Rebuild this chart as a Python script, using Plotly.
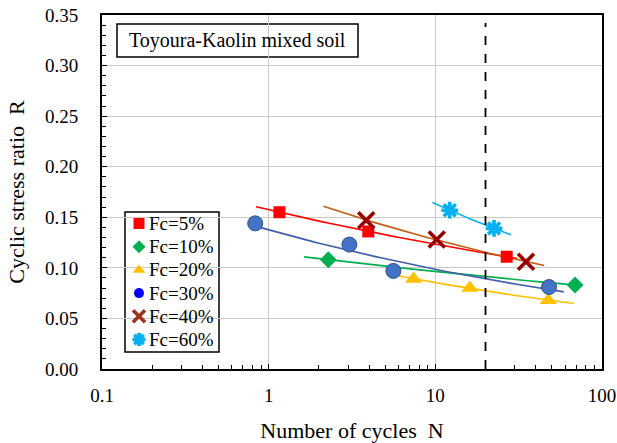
import numpy as np
import plotly.graph_objects as go

# ---------------- data ----------------
labels = ["Fc=5%", "Fc=10%", "Fc=20%", "Fc=30%", "Fc=40%", "Fc=60%"]

n_fc5 = [1.16, 3.96, 26.8]
r_fc5 = [0.155, 0.136, 0.111]
n_fc10 = [2.28, 68.9]
r_fc10 = [0.108, 0.083]
n_fc20 = [7.4, 16.1, 47.6]
r_fc20 = [0.089, 0.080, 0.068]
n_fc30 = [0.83, 3.05, 5.6, 48.1]
r_fc30 = [0.144, 0.123, 0.097, 0.081]
n_fc40 = [3.85, 10.2, 35.0]
r_fc40 = [0.147, 0.128, 0.106]
n_fc60 = [12.2, 22.5]
r_fc60 = [0.157, 0.139]

# range over which each power-law trend line is drawn
trend_from = [0.84, 1.63, 5.1, 0.83, 2.13, 9.6]
trend_to = [31.0, 65.0, 68.0, 59.0, 45.0, 28.4]

n_limit = 20          # dashed reference line
n_limit_r = [0.0, 0.342]

x_ticks = [0.1, 1, 10, 100]
x_tick_text = ["0.1", "1", "10", "100"]

# ---------------- styles / layout ----------------
FONT = "Liberation Serif, Times New Roman, DejaVu Serif, serif"
W, H = 617, 443
ML, MR, MT, MB = 102, 15, 15, 74
PW, PH = W - ML - MR, H - MT - MB


def px_x(px):
    return (px - ML) / PW


def px_y(py):
    return (H - MB - py) / PH


marker_colors = ["#FF0000", "#00B050", "#FFC000", "#4472C4", "#990000", "#00B0F0"]
legend_colors = ["#FF0000", "#00B050", "#FFC000", "#0000FF", "#A0301A", "#00B0F0"]
line_colors = ["#FF0000", "#00B050", "#FFC000", "#3F5FA8", "#C55A11", "#00B0F0"]
symbols = ["square", "diamond", "triangle-up", "circle", "x-thin-open", "asterisk-open"]
sizes = [12, 13, 15, 15, 16, 14]
legend_sizes = [11, 10, 11, 10, 12, 11]

series_n = [n_fc5, n_fc10, n_fc20, n_fc30, n_fc40, n_fc60]
series_r = [r_fc5, r_fc10, r_fc20, r_fc30, r_fc40, r_fc60]

fig = go.Figure()

# trend lines (least-squares power-law fits of each series)
for i in range(len(labels)):
    b, ln_a = np.polyfit(np.log(series_n[i]), np.log(series_r[i]), 1)
    nn = np.geomspace(trend_from[i], trend_to[i], 60)
    rr = np.exp(ln_a) * nn ** b
    fig.add_trace(go.Scatter(x=nn, y=rr, mode="lines",
                             line=dict(color=line_colors[i], width=1.6),
                             showlegend=False, hoverinfo="skip"))

# dashed line N = 20
fig.add_trace(go.Scatter(x=[n_limit, n_limit], y=n_limit_r, mode="lines",
                         line=dict(color="black", width=1.8, dash="dash"),
                         showlegend=False, hoverinfo="skip"))


def marker_style(i, size, color):
    mk = dict(symbol=symbols[i], size=size, color=color)
    if symbols[i].endswith("open"):
        mk["line"] = dict(width=3.6, color=color)
    elif symbols[i] == "circle" and color == marker_colors[i]:
        mk["line"] = dict(width=1, color="#2F528F")
    else:
        mk["line"] = dict(width=0)
    return mk


# markers
for i in range(len(labels)):
    fig.add_trace(go.Scatter(x=series_n[i], y=series_r[i], mode="markers",
                             name=labels[i], showlegend=False,
                             marker=marker_style(i, sizes[i], marker_colors[i])))

# ---------------- hand-built legend (overlay axes in paper units) ----------------
leg_x0, leg_x1, leg_y0, leg_y1 = 125, 219, 212, 352
leg_mark_x, leg_text_x, leg_first_y, leg_step = 139, 146.5, 223.5, 23.2

shapes = [
    dict(type="rect", xref="paper", yref="paper",
         x0=px_x(leg_x0), x1=px_x(leg_x1), y0=px_y(leg_y1), y1=px_y(leg_y0),
         line=dict(color="black", width=1.5), fillcolor="white", layer="between"),
    dict(type="rect", xref="paper", yref="paper",
         x0=px_x(117), x1=px_x(358), y0=px_y(57), y1=px_y(24),
         line=dict(color="black", width=1.5), fillcolor="white", layer="between"),
]
annotations = [dict(
    x=px_x(237.5), y=px_y(40.5), xref="paper", yref="paper",
    xanchor="center", yanchor="middle",
    text="Toyoura-Kaolin mixed soil", showarrow=False,
    font=dict(family=FONT, size=20, color="black"))]

for i in range(len(labels)):
    yy = px_y(leg_first_y + leg_step * i)
    fig.add_trace(go.Scatter(x=[px_x(leg_mark_x)], y=[yy], mode="markers",
                             xaxis="x2", yaxis="y2", showlegend=False, hoverinfo="skip",
                             marker=marker_style(i, legend_sizes[i], legend_colors[i])))
    annotations.append(dict(x=px_x(leg_text_x), y=yy, xref="paper", yref="paper",
                            xanchor="left", yanchor="middle", text=labels[i],
                            showarrow=False,
                            font=dict(family=FONT, size=19, color="black")))

fig.update_layout(
    width=W, height=H,
    margin=dict(l=ML, r=MR, t=MT, b=MB),
    paper_bgcolor="white", plot_bgcolor="white",
    font=dict(family=FONT, size=19, color="black"),
    showlegend=False,
    shapes=shapes,
    annotations=annotations,
    xaxis=dict(
        type="log", range=[-1, 2], automargin=False,
        tickvals=x_ticks, ticktext=x_tick_text,
        showgrid=True, gridcolor="#C8C8C8", gridwidth=1,
        ticks="inside", ticklen=5, tickcolor="black",
        minor=dict(ticks="inside", ticklen=4, tickcolor="black", showgrid=False, dtick="D1"),
        showline=True, linecolor="black", linewidth=2, mirror=True,
        ticklabelstandoff=8,
        tickfont=dict(family=FONT, size=19),
        title=dict(text="Number of cycles  N", font=dict(family=FONT, size=22), standoff=18),
        zeroline=False,
    ),
    yaxis=dict(
        range=[0, 0.35], dtick=0.05, tickformat=".2f", automargin=False,
        showgrid=True, gridcolor="#C8C8C8", gridwidth=1,
        ticks="inside", ticklen=5, tickcolor="black",
        minor=dict(ticks="inside", ticklen=4, tickcolor="black", dtick=0.01, showgrid=False),
        showline=True, linecolor="black", linewidth=2, mirror=True,
        ticklabelstandoff=18,
        tickfont=dict(family=FONT, size=19),
        title=dict(text="Cyclic stress ratio  R", font=dict(family=FONT, size=22), standoff=14),
        zeroline=False,
    ),
    xaxis2=dict(overlaying="x", range=[0, 1], visible=False, fixedrange=True),
    yaxis2=dict(overlaying="y", range=[0, 1], visible=False, fixedrange=True),
)

fig.write_html("out.html")
